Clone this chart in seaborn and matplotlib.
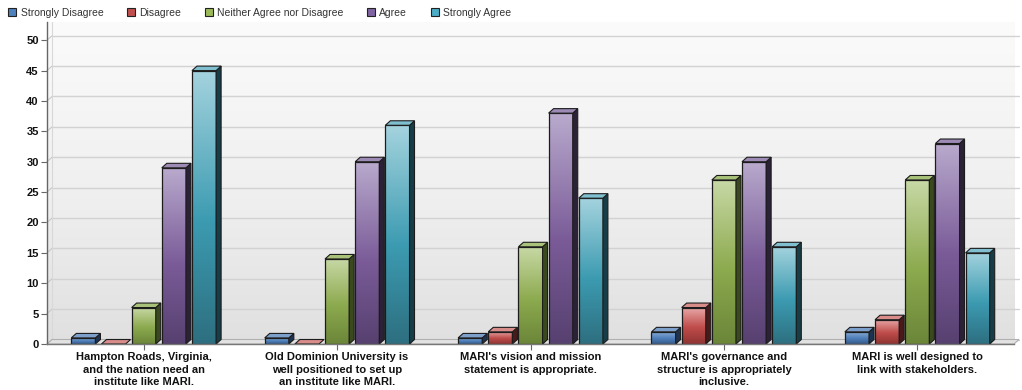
import numpy as np
import pandas as pd
import matplotlib
matplotlib.use("Agg")
import matplotlib.pyplot as plt
import seaborn as sns
from matplotlib.colors import to_rgb
from matplotlib.patches import Polygon, Rectangle

# ---- survey data -------------------------------------------------------
statements = [
    "Hampton Roads, Virginia,\nand the nation need an\ninstitute like MARI.",
    "Old Dominion University is\nwell positioned to set up\nan institute like MARI.",
    "MARI's vision and mission\nstatement is appropriate.",
    "MARI's governance and\nstructure is appropriately\ninclusive.",
    "MARI is well designed to\nlink with stakeholders.",
]
responses = ["Strongly Disagree", "Disagree", "Neither Agree nor Disagree",
             "Agree", "Strongly Agree"]
strongly_disagree = [1, 1, 1, 2, 2]
disagree = [0, 0, 2, 6, 4]
neither = [6, 14, 16, 27, 27]
agree = [29, 30, 38, 30, 33]
strongly_agree = [45, 36, 24, 16, 15]
y_ticks = list(range(0, 55, 5))

counts = [strongly_disagree, disagree, neither, agree, strongly_agree]
df = pd.DataFrame(
    [(s, r, c[i]) for r, c in zip(responses, counts) for i, s in enumerate(statements)],
    columns=["statement", "response", "count"],
)

base_colors = ["#4F81BD", "#C0504D", "#9BBB59", "#8064A2", "#4BACC6"]
# front gradient (top, middle, bottom), top face, side face
shades = {
    "Strongly Disagree": ("#8fb0d8", "#4f7fba", "#345a8a", "#7d9fcb", "#1e3350"),
    "Disagree": ("#e8aaaa", "#bf4c4a", "#8f3432", "#d98d8b", "#4a1a1a"),
    "Neither Agree nor Disagree": ("#c8d9a6", "#8caa4e", "#6b8639", "#a9c27a", "#3a4a1e"),
    "Agree": ("#b9aacd", "#7a5b98", "#574170", "#9d8bb6", "#2c2238"),
    "Strongly Agree": ("#a4d3de", "#3c9bb1", "#2d6f80", "#7fbfcf", "#173e48"),
}

def blend(c1, c2, t):
    a, b = np.array(to_rgb(c1)), np.array(to_rgb(c2))
    return a + (b - a) * t

def gradient(top, mid, bot, n=120):
    rows = []
    for i in range(n):
        t = i / (n - 1)
        if t < 0.55:
            rows.append(blend(top, mid, t / 0.55))
        else:
            rows.append(blend(mid, bot, (t - 0.55) / 0.45))
    return np.array(rows)[:, None, :]

sns.set_theme(style="white")
plt.rcParams["font.family"] = ["Liberation Sans", "DejaVu Sans"]

W, H = 1022, 390
fig = plt.figure(figsize=(W / 100, H / 100), dpi=100)
ax_left, ax_right, ax_top, ax_bot = 47, 1014, 22, 344
ax = fig.add_axes([ax_left / W, (H - ax_bot) / H,
                   (ax_right - ax_left) / W, (ax_bot - ax_top) / H])

sns.barplot(data=df, x="statement", y="count", hue="response",
            order=statements, hue_order=responses, palette=base_colors,
            width=0.78, gap=0.2, legend=False, ax=ax,
            edgecolor="#1c1c1c", linewidth=0.9, zorder=3)

ymax = 53
ax.set_xlim(-0.5, 4.5)
ax.set_ylim(0, ymax)

# depth of the 3-D effect in data units
px_x = (ax_right - ax_left) / 5.0
px_y = (ax_bot - ax_top) / ymax
dx = 5.0 / px_x
dy = 4.5 / px_y

# plot-area background
bg = gradient("#fbfbfb", "#efefef", "#e0e0e0")
ax.imshow(bg, extent=(0, 1, 0, 1), transform=ax.transAxes, aspect="auto",
          zorder=0, interpolation="bicubic")

# back-wall gridlines with the corner diagonals
for v in y_ticks:
    ax.plot([-0.5 + dx, 4.5 + dx], [v + dy, v + dy], color="#d2d2d2", lw=1.0,
            zorder=1, clip_on=False)
    ax.plot([-0.5, -0.5 + dx], [v, v + dy], color="#c8c8c8", lw=0.8,
            zorder=1, clip_on=False)
ax.plot([-0.5 + dx, -0.5 + dx], [dy, ymax], color="#d8d8d8", lw=0.8, zorder=1)

# floor
ax.add_patch(Polygon([(-0.5, 0), (4.5, 0), (4.5 + dx, dy), (-0.5 + dx, dy)],
                     closed=True, facecolor="#e2e2e2", edgecolor="#b0b0b0",
                     lw=0.8, zorder=1, clip_on=False))

# gradient front faces plus top and side faces
for container, resp in zip(ax.containers, responses):
    top_c, mid_c, bot_c, cap_c, side_c = shades[resp]
    for p in container.patches:
        x0, w, h = p.get_x(), p.get_width(), p.get_height()
        p.set_facecolor("none")
        if h > 0:
            img = ax.imshow(gradient(top_c, mid_c, bot_c), extent=(x0, x0 + w, 0, h),
                            aspect="auto", zorder=2, interpolation="bicubic")
            img.set_clip_path(p)
            ax.add_patch(Polygon([(x0 + w, 0), (x0 + w + dx, dy), (x0 + w + dx, h + dy),
                                  (x0 + w, h)], closed=True, facecolor=side_c,
                                 edgecolor="#1c1c1c", lw=0.8, zorder=3, clip_on=False))
        ax.add_patch(Polygon([(x0, h), (x0 + w, h), (x0 + w + dx, h + dy), (x0 + dx, h + dy)],
                             closed=True, facecolor=cap_c, edgecolor="#1c1c1c",
                             lw=0.8, zorder=4, clip_on=False))

ax.set_xlim(-0.5, 4.5)
ax.set_ylim(0, ymax)
ax.set_yticks(y_ticks)
ax.set_xlabel("")
ax.set_ylabel("")

for side in ("top", "right"):
    ax.spines[side].set_visible(False)
ax.spines["left"].set_color("#666666")
ax.spines["bottom"].set_color("#777777")
ax.spines["left"].set_linewidth(1.0)
ax.spines["bottom"].set_linewidth(1.0)
ax.spines["left"].set_zorder(5)
ax.spines["bottom"].set_zorder(5)

ax.tick_params(axis="y", length=4, width=0.8, color="#666666", pad=2,
               labelsize=8, labelcolor="#111111", left=True)
ax.tick_params(axis="x", length=4, width=0.8, color="#666666", pad=2,
               labelsize=8, labelcolor="#111111", bottom=True)
for lab in ax.get_yticklabels() + ax.get_xticklabels():
    lab.set_fontweight("bold")
for lab in ax.get_xticklabels():
    lab.set_linespacing(1.3)

handles = [Rectangle((0, 0), 1, 1, facecolor=c, edgecolor="#222222", lw=0.8)
           for c in base_colors]
fig.legend(handles, responses, loc="upper left", bbox_to_anchor=(6 / W, 1 - 6 / H),
           ncol=5, frameon=False, fontsize=7.5, handlelength=0.8, handleheight=0.8,
           handletextpad=0.4, columnspacing=2.25, borderaxespad=0, borderpad=0.2,
           labelcolor="#333333")

fig.savefig("out.png", dpi=100)
